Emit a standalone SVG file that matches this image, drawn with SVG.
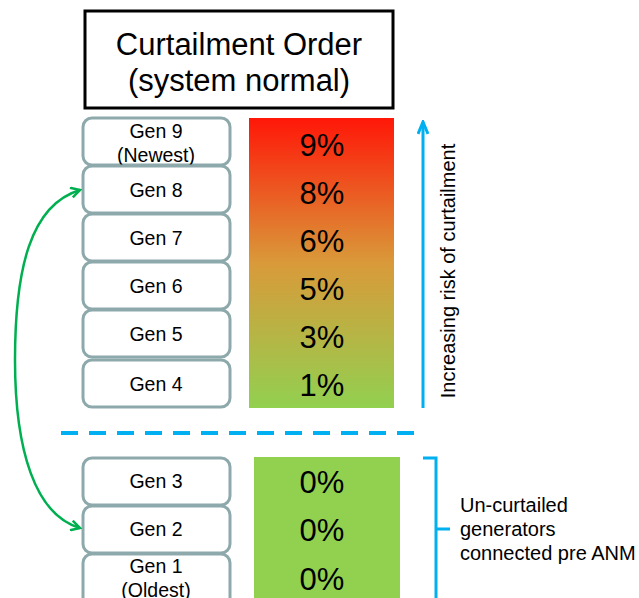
<svg xmlns="http://www.w3.org/2000/svg" width="639" height="598" viewBox="0 0 639 598">
<defs>
<linearGradient id="risk" x1="0" y1="0" x2="0" y2="1">
<stop offset="0" stop-color="#ff1708"/>
<stop offset="0.5" stop-color="#d99a3a"/>
<stop offset="1" stop-color="#92d050"/>
</linearGradient>
<marker id="gArrow" viewBox="0 0 12 12" refX="10" refY="6" markerWidth="12" markerHeight="12" markerUnits="userSpaceOnUse" orient="auto">
<polyline points="1,1 10,6 1,11" fill="none" stroke="#00b050" stroke-width="2.5"/>
</marker>
<marker id="bArrow" viewBox="0 0 16 12" refX="14" refY="6" markerWidth="16" markerHeight="12" markerUnits="userSpaceOnUse" orient="auto">
<polyline points="2,1 14,6 2,11" fill="none" stroke="#00b0f0" stroke-width="3"/>
</marker>
</defs>
<style>
.gen rect{fill:#fff;stroke:#8ea9ab;stroke-width:3}
.t{font-family:"Liberation Sans",Arial,sans-serif;fill:#000}
.gt{font-size:19.5px;text-anchor:middle}
.pct{font-size:31px;text-anchor:middle}
.lbl{font-size:20px}
</style>
<g id="title">
<rect x="85" y="11" width="308" height="97" fill="#fff" stroke="#000" stroke-width="3"/>
<text class="t" x="239" y="55" font-size="31" text-anchor="middle">Curtailment Order</text>
<text class="t" x="239" y="91" font-size="31" text-anchor="middle">(system normal)</text>
</g>
<g id="risk-bar">
<rect x="249" y="118" width="145" height="290" fill="url(#risk)"/>
<text class="t pct" x="322" y="156">9%</text>
<text class="t pct" x="322" y="204">8%</text>
<text class="t pct" x="322" y="252">6%</text>
<text class="t pct" x="322" y="300">5%</text>
<text class="t pct" x="322" y="348">3%</text>
<text class="t pct" x="322" y="396">1%</text>
</g>
<g id="zero-bar">
<rect x="254" y="457" width="146" height="145" fill="#92d050"/>
<text class="t pct" x="322" y="493">0%</text>
<text class="t pct" x="322" y="541">0%</text>
<text class="t pct" x="322" y="590">0%</text>
</g>
<g id="gen9" class="gen"><rect x="83" y="118" width="147" height="47" rx="9"/><text class="t gt" x="156" y="138">Gen 9</text><text class="t gt" x="156" y="162">(Newest)</text></g>
<g id="gen8" class="gen"><rect x="83" y="166" width="147" height="47" rx="9"/><text class="t gt" x="156" y="197">Gen 8</text></g>
<g id="gen7" class="gen"><rect x="83" y="214" width="147" height="47" rx="9"/><text class="t gt" x="156" y="245">Gen 7</text></g>
<g id="gen6" class="gen"><rect x="83" y="262" width="147" height="47" rx="9"/><text class="t gt" x="156" y="293">Gen 6</text></g>
<g id="gen5" class="gen"><rect x="83" y="310" width="147" height="47" rx="9"/><text class="t gt" x="156" y="341">Gen 5</text></g>
<g id="gen4" class="gen"><rect x="83" y="360" width="147" height="47" rx="9"/><text class="t gt" x="156" y="391">Gen 4</text></g>
<g id="gen3" class="gen"><rect x="83" y="458" width="147" height="47" rx="9"/><text class="t gt" x="156" y="488">Gen 3</text></g>
<g id="gen2" class="gen"><rect x="83" y="506" width="147" height="47" rx="9"/><text class="t gt" x="156" y="536">Gen 2</text></g>
<g id="gen1" class="gen"><rect x="83" y="554" width="147" height="52" rx="9"/><text class="t gt" x="156" y="573">Gen 1</text><text class="t gt" x="156" y="597">(Oldest)</text></g>
<g id="connectors">
<path d="M15 360 C15 270 30 205 80 190" fill="none" stroke="#00b050" stroke-width="2.5" marker-end="url(#gArrow)"/>
<path d="M15 360 C15 450 35 515 80 528" fill="none" stroke="#00b050" stroke-width="2.5" marker-end="url(#gArrow)"/>
<line x1="423" y1="408" x2="423" y2="122" stroke="#00b0f0" stroke-width="3" marker-end="url(#bArrow)"/>
<line x1="61" y1="433" x2="422" y2="433" stroke="#00b0f0" stroke-width="4" stroke-dasharray="17 11"/>
<path d="M423 458 H436 V598 M436 529 H450" fill="none" stroke="#00b0f0" stroke-width="3"/>
</g>
<g id="labels">
<text class="t lbl" text-anchor="middle" transform="translate(455 271) rotate(-90)">Increasing risk of curtailment</text>
<text class="t lbl" x="460" y="512">Un-curtailed</text>
<text class="t lbl" x="460" y="536">generators</text>
<text class="t lbl" x="460" y="560">connected pre ANM</text>
</g>
</svg>
